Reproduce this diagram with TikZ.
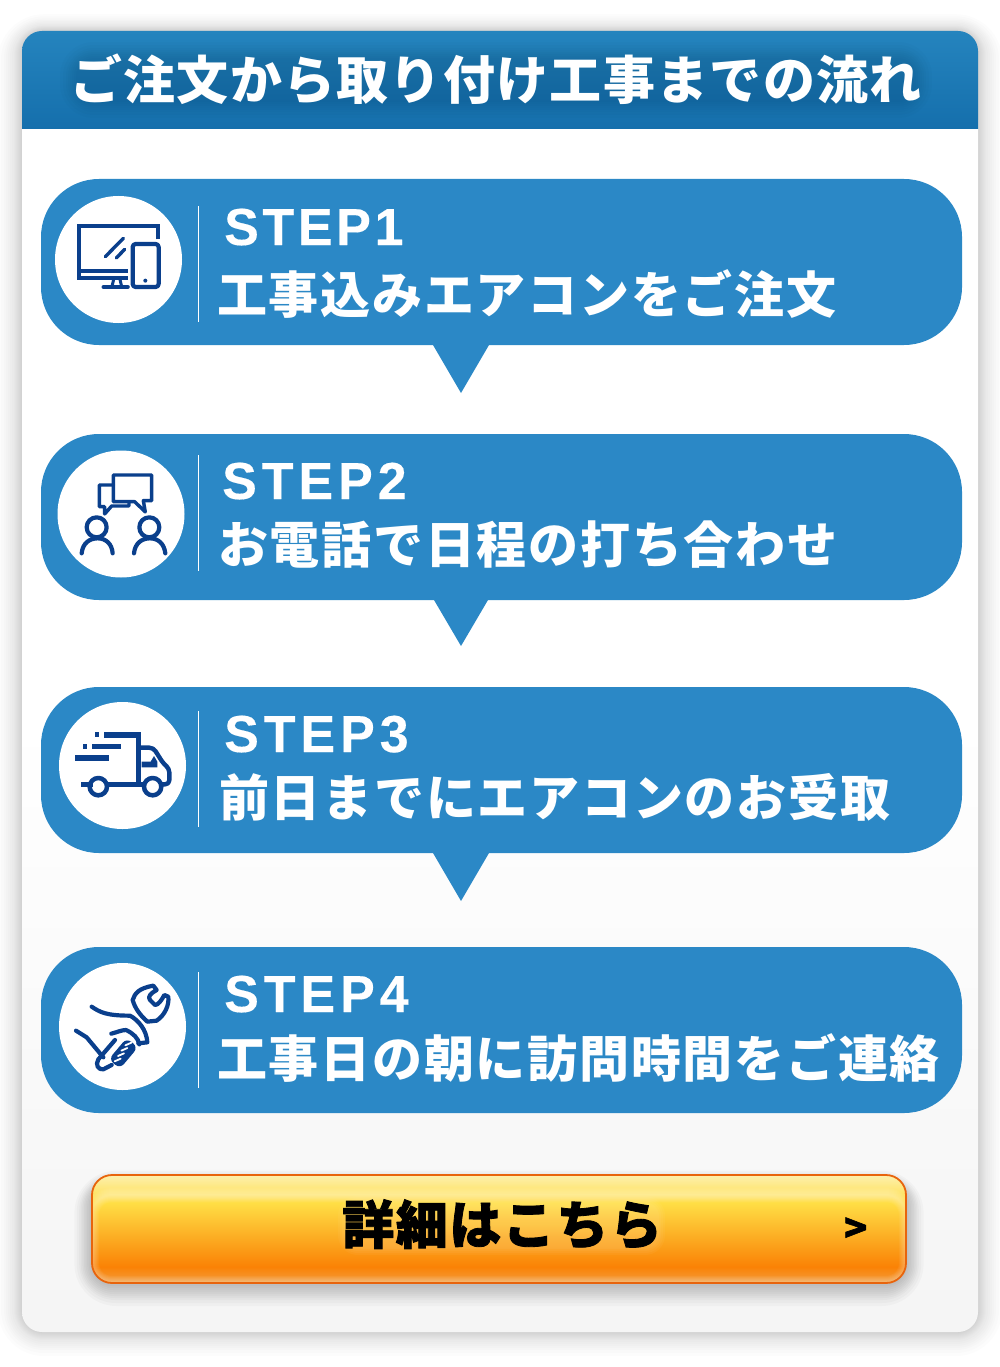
\documentclass[tikz,border=0pt]{standalone}
\usepackage{fontspec}
\setmainfont{Liberation Sans}
\newfontfamily\jpsp[LetterSpace=3.5]{Noto Sans CJK JP}
\newfontfamily\jptitle[LetterSpace=2.5]{Noto Sans CJK JP}
\newfontfamily\jpfat[FakeBold=1.6,LetterSpace=3]{Noto Sans CJK JP}
\newfontfamily\lat[LetterSpace=7,FakeBold=0.3]{Liberation Sans}
\newfontfamily\latwide[LetterSpace=9.5,FakeBold=0.3]{Liberation Sans}
\definecolor{bub}{HTML}{2B88C6}
\definecolor{ico}{HTML}{0A3F8C}
\definecolor{edge}{HTML}{E8640C}
\pgfdeclareverticalshading{headsh}{100bp}{rgb(0bp)=(0.082,0.435,0.675);rgb(25bp)=(0.082,0.435,0.675);rgb(75bp)=(0.145,0.518,0.745);rgb(100bp)=(0.145,0.518,0.745)}
\pgfdeclareverticalshading{btnsh}{100bp}{rgb(0bp)=(0.95,0.62,0.25);rgb(25bp)=(0.95,0.62,0.25);rgb(32.5bp)=(0.98,0.51,0.02);rgb(62bp)=(1,0.87,0.27);rgb(75bp)=(0.99,0.94,0.68);rgb(100bp)=(0.99,0.94,0.68)}
\tikzset{
  bubble/.style={fill=bub,rounded corners=58},
  tail/.style={fill=bub},
  disc/.style={circle,fill=white,minimum size=127,inner sep=0},
  sepline/.style={draw=white,line width=1},
  steplabel/.style={anchor=base west,inner sep=0,text=white,font=\lat\bfseries\fontsize{52}{60}\selectfont},
  steplabelw/.style={anchor=base west,inner sep=0,text=white,font=\latwide\bfseries\fontsize{52}{60}\selectfont},
  jplabel/.style={anchor=base west,inner sep=0,text=white,font=\jpsp\bfseries\fontsize{50}{60}\selectfont},
  icon/.style={draw=ico,line width=4.2,line cap=round,line join=round},
  iconfill/.style={fill=ico},
  zoomA/.style={shift={(#1)},x=0.3333pt,y=-0.3333pt}
}
\begin{document}
\begin{tikzpicture}[x=1pt,y=-1pt]
\useasboundingbox (0,0) rectangle (1000,1367);
\fill[white] (0,0) rectangle (1000,1367);
% card shadow
\foreach \w in {24,21,18,16,14,12,10,8,7,6,5,4,3,2,1}{
  \fill[black,opacity=0.012,rounded corners=22+\w] (22-\w,31-\w*0.7) rectangle (978+\w,1332+\w);
}
\shade[top color=white,bottom color=black!4,middle color=white,rounded corners=20] (22,100) rectangle (978,1332);
% header
\shade[shading=headsh] (22,129) [rounded corners=20] -- (22,31) -- (978,31) [sharp corners] -- (978,129) -- cycle;
\foreach \w in {18,15,12,10,8,6,4,2}{
  \fill[black,opacity=0.012,rounded corners=16+\w] (78-\w,60-\w) rectangle (914+\w,100+\w);
}
\node[anchor=base west,inner sep=0,text=white,font=\jptitle\bfseries\fontsize{52}{60}\selectfont] (title) at (70,100) {ご注文から取り付け工事までの流れ};

% step 1
\path[bubble] (41,179) rectangle (962,345);
\path[tail] (433,345) -- (489,345) -- (461,393) -- cycle;
\node[disc] (c1) at (118.5,259.5) {};
\draw[sepline] (198,206) -- (198,322);
\node[steplabel] (s1) at (224,245) {STEP1};
\node[jplabel] (t1) at (217,313) {工事込みエアコンをご注文};
\begin{scope}[zoomA={0,170}]
  \draw[icon,line cap=butt,line join=miter] (474,208) -- (474,167) -- (236,167) -- (236,325) -- (385,325);
  \draw[icon,line cap=butt] (232,303) -- (385,303);
  \draw[icon,line width=3,line cap=butt] (341,328) -- (336,350) (360,328) -- (365,350);
  \draw[icon,line width=3.6] (310,351) -- (384,351);
  \draw[icon,line width=3.4] (316,260) -- (370,205) (349,264) -- (374,238);
  \draw[icon,rounded corners=3] (398,222) rectangle (476,351);
  \fill[iconfill] (436,332) circle (6);
\end{scope}

% step 2
\path[bubble] (41,434) rectangle (962,600);
\path[tail] (434,600) -- (488,600) -- (461,646) -- cycle;
\node[disc] (c2) at (121,514) {};
\draw[sepline] (198,455) -- (198,571);
\node[steplabelw] (s2) at (222,499) {STEP2};
\node[jplabel] (t2) at (218,563) {お電話で日程の打ち合わせ};
\begin{scope}[zoomA={30,440}]
  \draw[icon,line width=3.4] (250,105) -- (365,105) -- (365,182) -- (340,182) -- (346,216) -- (314,185) -- (250,185) -- cycle;
  \draw[icon,line width=3.4] (250,135) -- (208,135) -- (208,200) -- (224,200) -- (224,222) -- (245,198) -- (297,198) -- (297,187);
  \draw[icon] (200,262) circle (30);
  \draw[icon] (155,340) .. controls (158,310) and (178,295) .. (203,295) .. controls (228,295) and (246,312) .. (248,340);
  \draw[icon] (358,262) circle (30);
  \draw[icon] (312,340) .. controls (315,310) and (335,295) .. (360,295) .. controls (385,295) and (403,312) .. (406,340);
\end{scope}

% step 3
\path[bubble] (41,687) rectangle (962,853);
\path[tail] (433,853) -- (489,853) -- (461,901) -- cycle;
\node[disc] (c3) at (122.5,765.5) {};
\draw[sepline] (198,711) -- (198,827);
\node[steplabelw] (s3) at (224,752) {STEP3};
\node[jplabel] (t3) at (219,816) {前日までにエアコンのお受取};
\begin{scope}[zoomA={30,695}]
  \fill[iconfill] (222,110) rectangle (330,128);
  \fill[iconfill] (318,110) rectangle (332,262);
  \fill[iconfill] (195,110) rectangle (208,126);
  \fill[iconfill] (160,147) rectangle (172,162);
  \fill[iconfill] (187,147) rectangle (273,162);
  \fill[iconfill] (136,181) rectangle (238,198);
  \fill[iconfill] (154,262) rectangle (190,276);
  \fill[iconfill] (225,262) rectangle (345,276);
  \draw[icon,line width=4.5,line cap=butt] (205,275) circle (26);
  \draw[icon,line width=4.5,line cap=butt] (368,275) circle (26);
  \draw[icon,line width=4.4,line cap=butt,rounded corners=4] (330,158) -- (370,158) -- (401,207) -- (418,220) -- (418,268) -- (395,268);
  \fill[iconfill] (335,200) -- (362,200) -- (372,183) -- (382,200) -- (382,217) -- (335,217) -- cycle;
\end{scope}

% step 4
\path[bubble] (41,947) rectangle (962,1113);
\node[disc] (c4) at (122.5,1026.5) {};
\draw[sepline] (198,972) -- (198,1088);
\node[steplabelw] (s4) at (224,1012) {STEP4};
\node[jplabel] (t4) at (217,1077) {工事日の朝に訪問時間をご連絡};
\begin{scope}[zoomA={40,955}]
  \draw[icon,line width=4.2] (278,135) .. controls (285,115) and (295,100) .. (340,92) -- (350,105) .. controls (332,115) and (322,125) .. (330,135) -- (345,150) .. controls (355,150) and (365,135) .. (373,120) -- (385,125) .. controls (388,150) and (375,180) .. (350,197) -- (322,200) .. controls (300,180) and (285,160) .. (278,135);
  \draw[icon,line width=4.2] (155,155) .. controls (180,172) and (200,182) .. (270,182) .. controls (295,195) and (320,225) .. (322,262) -- (295,265);
  \draw[icon,line width=4.2] (214,236) .. controls (230,232) and (245,225) .. (258,225) .. controls (280,235) and (295,250) .. (298,268);
\end{scope}
\begin{scope}[zoomA={70,1020}]
  \draw[icon,line width=4.2] (18,32) -- (50,52) -- (100,112);
  \draw[icon,line width=4.2] (135,60) -- (85,118) .. controls (75,135) and (85,150) .. (100,148) -- (125,135);
  \fill[iconfill,rounded corners=6] (204,82) -- (170,54) -- (116,118) -- (150,146) -- cycle;
  \draw[white,line width=1.8,line cap=round] (166,76) -- (184,68) (154,92) -- (172,84) (144,108) -- (162,100) (134,124) -- (152,116);
\end{scope}

% button
\foreach \w in {22,19,16,14,12,10,8,6,4,2}{
  \fill[black,opacity=0.025,rounded corners=20+\w] (92-\w*0.8,1184-\w*0.6) rectangle (906+\w*0.8,1284+\w);
}
\begin{scope}
  \clip[rounded corners=20] (92,1175) rectangle (906,1283);
  \shade[shading=btnsh] (92,1175) rectangle (906,1283);
  \foreach \w in {2,4,...,14}{
    \draw[white,opacity=0.05,line width=\w,rounded corners=20] (92,1195) rectangle (906,1283);
  }
\end{scope}
\draw[edge,line width=1.8,rounded corners=20] (92,1175) rectangle (906,1283);
\foreach \w in {8,6,4,2}{
  \fill[white,opacity=0.035,rounded corners=12+\w] (346-\w,1204-\w) rectangle (657+\w,1247+\w);
}
\node[anchor=base west,inner sep=0,text=black,font=\jpfat\bfseries\fontsize{52}{60}\selectfont] (go) at (342,1244) {詳細はこちら};
\node[anchor=base west,inner sep=0,text=black,font=\jpfat\bfseries\fontsize{38}{40}\selectfont] (arrow) at (844,1242) {>};
\end{tikzpicture}
\end{document}
